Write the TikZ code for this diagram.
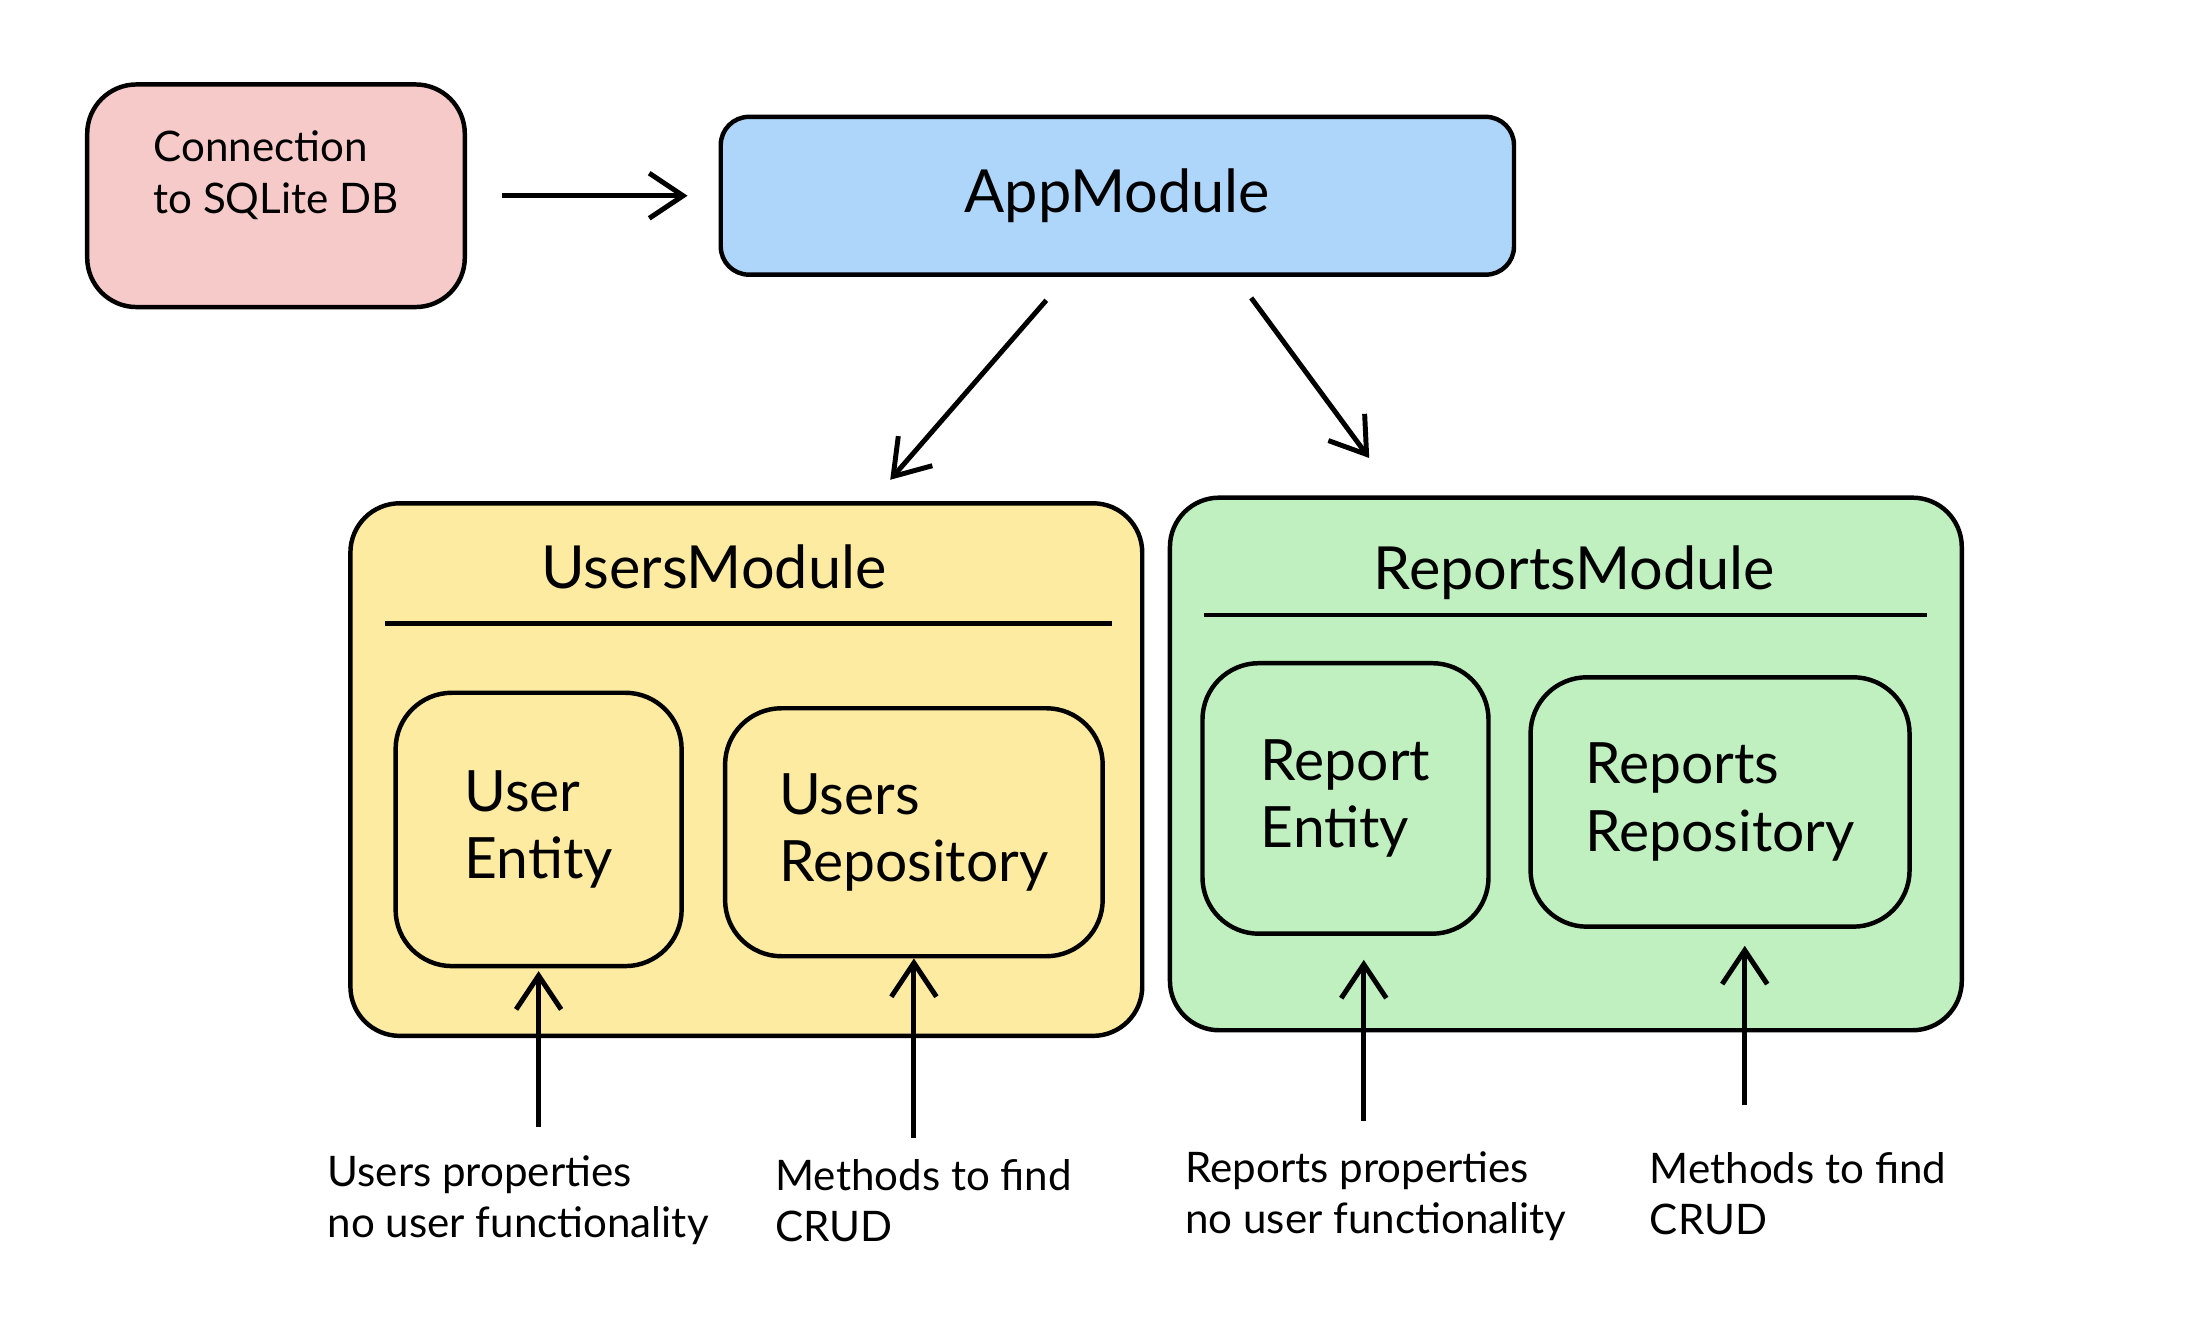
\documentclass[tikz,border=0pt]{standalone}
\usepackage{fontspec}
\setmainfont{Lato}
\usetikzlibrary{positioning,calc,arrows.meta}
\definecolor{connpink}{HTML}{F7CACA}
\definecolor{appblue}{HTML}{ADD6FA}
\definecolor{usyellow}{HTML}{FCEBA0}
\definecolor{repgreen}{HTML}{C0F0C0}

\begin{document}
\begin{tikzpicture}[x=0.01cm,y=-0.01cm,
  bigtext/.style={font=\fontsize{12}{14.5}\selectfont},
  smalltext/.style={font=\fontsize{8.5}{10.3}\selectfont, align=left, inner sep=0pt},
  module/.style={rectangle, draw, line width=.9pt, rounded corners=.35cm, minimum width=5.62cm, minimum height=3.78cm},
  part/.style={rectangle, draw, line width=.9pt, rounded corners=.4cm, align=left, minimum height=1.85cm, font=\fontsize{11.5}{13.6}\selectfont},
  arr/.style={-{Straight Barb[length=2.4mm,width=3.2mm]}, line width=1pt}]

\fill[white] (0,0) rectangle (1568,953);
\useasboundingbox (0,0) rectangle (1568,953);

%--figura del database e di AppModule
\node [rectangle, draw, line width=.9pt, rounded corners=.35cm, fill=connpink, minimum width=2.68cm, minimum height=1.58cm, align=left, text depth=.33cm, font=\fontsize{8.5}{10.5}\selectfont] (conn) at (196,139) {Connection\\to SQLite DB};
\node [rectangle, draw, line width=.9pt, rounded corners=.2cm, fill=appblue, minimum width=5.63cm, minimum height=1.12cm, bigtext] (app) at (793.5,139) {AppModule};

\draw[arr, shorten <=.25cm, shorten >=.22cm] (conn.east) -- (app.west);

%--figura relativa a UsersModule
\node [module, fill=usyellow] (usmod) at (530,546.5) {};
\node [bigtext] (ustitle) at ($(usmod.north)+(-23,47)$) {UsersModule};
\draw[line width=.9pt] ($(usmod.north west)+(26,87)$) -- ($(usmod.north east)+(-23,87)$);
\node [part, minimum width=2.03cm, minimum height=1.94cm] (usent) at (382.5,589) {User\\Entity};
\node [part, minimum width=2.68cm, minimum height=1.76cm] (usrepo) at (649,591) {Users\\Repository};

%--figura relativa a ReportsModule
\node [module, fill=repgreen] (repmod) at (1112,542.5) {};
\node [bigtext] (reptitle) at ($(repmod.north)+(6,55)$) {ReportsModule};
\draw[line width=.9pt] ($(repmod.north west)+(26,85)$) -- ($(repmod.north east)+(-26,85)$);
\node [part, minimum width=2.03cm, minimum height=1.92cm] (repent) at (955.5,567) {Report\\Entity};
\node [part, minimum width=2.69cm, minimum height=1.77cm] (reprepo) at (1221.5,569.5) {Reports\\Repository};

\draw[arr, shorten <=.22cm, shorten >=.2cm] ([xshift=-.36cm]app.south) -- ([xshift=.89cm]usmod.north);
\draw[arr, shorten <=.185cm, shorten >=.33cm] ([xshift=.84cm]app.south) -- ([xshift=-1.2cm]repmod.north);

%--note sotto i moduli
\node [smalltext, anchor=north west] (usprops) at (232,820) {Users properties\\no user functionality};
\node [smalltext, anchor=north west] (usmeth) at (550,823) {Methods to find\\CRUD};
\node [smalltext, anchor=north west] (repprops) at (841,817) {Reports properties\\no user functionality};
\node [smalltext, anchor=north west] (repmeth) at (1171,818) {Methods to find\\CRUD};

\draw[arr, shorten <=.2cm, shorten >=.02cm] (usent.south |- usprops.north) -- (usent.south);
\draw[arr, shorten <=.15cm] (usrepo.south |- usmeth.north) -- (usrepo.south);
\draw[arr, shorten <=.21cm, shorten >=.17cm] ($(repent.south |- repprops.north)+(13,0)$) -- ($(repent.south)+(13,0)$);
\draw[arr, shorten <=.33cm, shorten >=.12cm] ($(reprepo.south |- repmeth.north)+(17.5,0)$) -- ($(reprepo.south)+(17.5,0)$);

\end{tikzpicture}
\end{document}
